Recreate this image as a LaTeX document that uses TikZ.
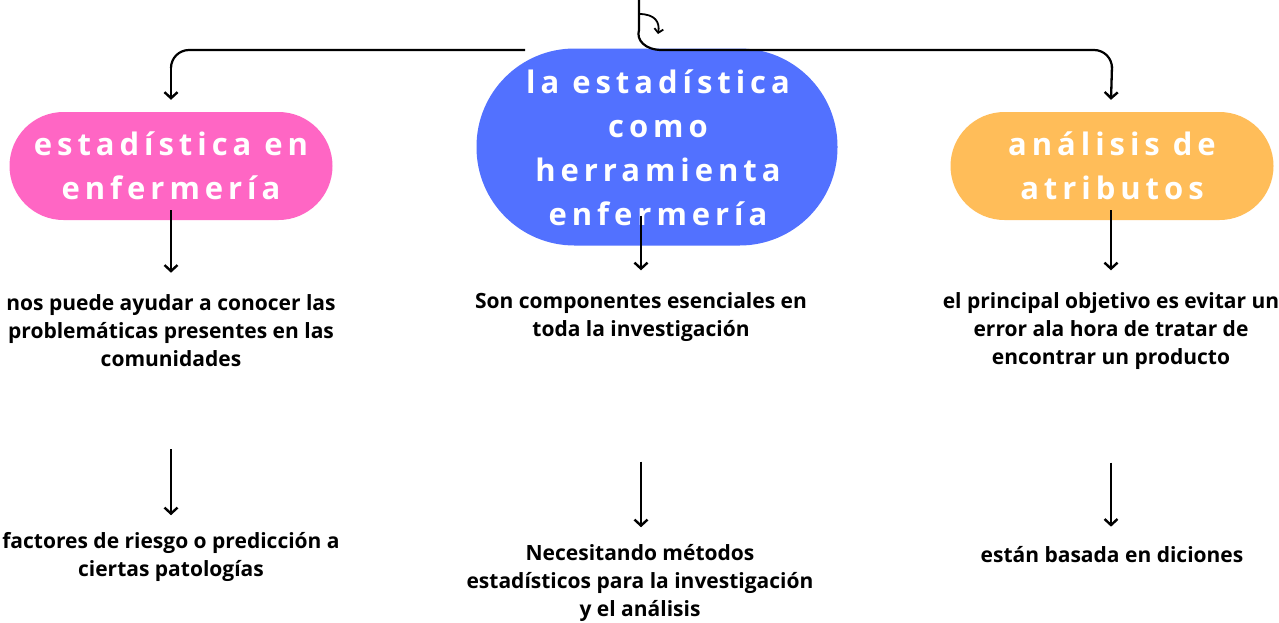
\documentclass[tikz,border=0pt]{standalone}
\usepackage{fontspec}
\setmainfont{Open Sans}
\newfontfamily\pillfont[LetterSpace=16]{Open Sans}
\usetikzlibrary{arrows.meta}
\definecolor{cpink}{HTML}{FF66C4}
\definecolor{cblue}{HTML}{5271FF}
\definecolor{corange}{HTML}{FFBD59}
\begin{document}
\begin{tikzpicture}[x=1pt,y=-1pt,
  pilltext/.style={text=white,align=center,inner sep=0pt,font=\pillfont\bfseries\fontsize{31}{44}\selectfont},
  pill/.style={pilltext,rectangle,rounded corners=54pt,minimum width=323pt,minimum height=108pt},
  body/.style={align=center,inner sep=0pt,text=black,font=\bfseries\fontsize{21}{28}\selectfont},
  arr/.style={line width=2.3pt,-{Straight Barb[length=6pt,width=13pt,line width=2.4pt]}},
  con/.style={line width=2.2pt}]
\useasboundingbox[fill=white] (0,0) rectangle (1279,622);
% main nodes
\node[pill,fill=cpink] (p) at (171,166) {estadística en\\enfermería};
\node[pill,fill=corange] (o) at (1112,166) {análisis de\\atributos};
\node[fill=cblue,minimum width=361pt,minimum height=197pt,rounded corners=98pt,inner sep=0pt] (b) at (657,147) {};
\node[pilltext] (bt) at (658,148) {la estadística\\como\\herramienta\\enfermería};
% text nodes
\node[body] (t1) at (171,331) {nos puede ayudar a conocer las\\problemáticas presentes en las\\comunidades};
\node[body] (t2) at (171,557) {factores de riesgo o predicción a\\ciertas patologías};
\node[body] (c1) at (641,317) {Son componentes esenciales en\\toda la investigación};
\node[body] (c2) at (640,583) {Necesitando métodos\\estadísticos para la investigación\\y el análisis};
\node[body] (r1) at (1111,331) {el principal objetivo es evitar un\\error ala hora de tratar de\\encontrar un producto};
\node[body] (r2) at (1112,555) {están basada en diciones};
% top connector
\coordinate (top) at (639,0);
\coordinate (lft) at (525,50);
\draw[con] (top) -- (639,30) .. controls (636,40) and (645,50) .. (662,50) -- (1094,50) to[out=0,in=90] (1112,68);
\draw[arr] (1112,66) -- ([yshift=12pt]o.north -| r1.north);
\draw[con] (lft) -- (189,50) to[out=180,in=90] (171,68);
\draw[arr] (171,66) -- ([yshift=12pt]p.north -| t1.north);
\draw[line width=1.8pt,-{Straight Barb[length=4pt,width=9pt,line width=1.8pt]}] (639,14) .. controls (655,14) and (660,22) .. (658,34);
% down arrows
\draw[arr] ([yshift=10pt]p.south -| t1.north) -- ([yshift=22pt]t1.north);
\draw[arr] ([yshift=30pt]b.south -| c1.north) -- ([yshift=22pt]c1.north);
\draw[arr] ([yshift=10pt]o.south -| r1.north) -- ([yshift=22pt]r1.north);
\draw[arr] ([yshift=-82pt]t1.south) -- ([yshift=17pt]t2.north);
\draw[arr] ([yshift=-120pt]c1.south) -- ([yshift=17pt]c2.north -| c1.south);
\draw[arr] ([yshift=-93pt]r1.south) -- ([yshift=20pt]r2.north -| r1.south);
\end{tikzpicture}
\end{document}
